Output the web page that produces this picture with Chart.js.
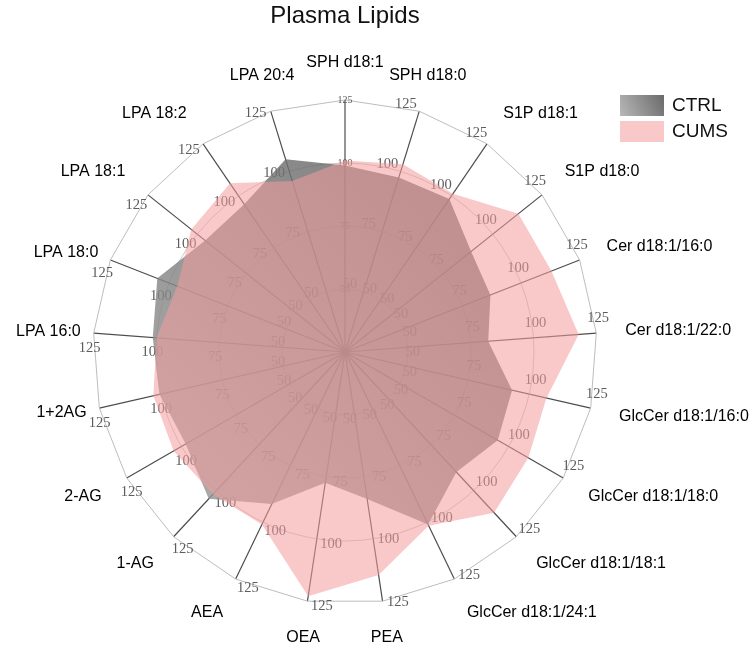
<!DOCTYPE html>
<html>
<head>
<meta charset="utf-8">
<title>Plasma Lipids</title>
<script src="https://cdn.jsdelivr.net/npm/chart.js@4.4.1/dist/chart.umd.min.js"></script>
<style>
  body { margin: 0; background: #fff; }
  #wrap { width: 749px; height: 648px; }
</style>
</head>
<body>
<div id="wrap"><canvas id="chart"></canvas></div>
<script>
const labels = ['SPH d18:1', 'SPH d18:0', 'S1P d18:1', 'S1P d18:0', 'Cer d18:1/16:0', 'Cer d18:1/22:0',
    'GlcCer d18:1/16:0', 'GlcCer d18:1/18:0', 'GlcCer d18:1/18:1', 'GlcCer d18:1/24:1',
    'PEA', 'OEA', 'AEA', '1-AG', '2-AG', '1+2AG',
    'LPA 16:0', 'LPA 18:0', 'LPA 18:1', 'LPA 18:2', 'LPA 20:4'];
const ctrlValues = [99, 97.5, 98.5, 89, 87, 82, 93, 95, 90, 101, 84, 77.5, 92, 104.5, 98, 100.5, 101.5, 105, 96, 96, 105];
const cumsValues = [101, 103, 101, 113, 113, 118, 107, 109, 112, 101.5, 114.5, 123, 101, 102, 103.5, 103, 100, 96.5, 103, 106, 96];
const tickValues = [50, 75, 100, 125];
const titleText = 'Plasma Lipids';

const sans = '"Liberation Sans", Arial, sans-serif';
const serif = '"Liberation Serif", "Times New Roman", serif';

const chart = document.querySelector('#chart').getContext('2d');

// grey fill goes from light (bottom left) to dark (top right)
function ctrlFill(context) {
    const area = context.chart.chartArea;
    if (!area) return 'rgba(125,125,125,0.82)';
    const g = context.chart.ctx.createLinearGradient(area.left, area.bottom, area.right, area.top);
    g.addColorStop(0, 'rgba(170,170,170,0.82)');
    g.addColorStop(1, 'rgba(78,78,78,0.82)');
    return g;
}

const decorations = {
    id: 'decorations',
    beforeDatasetsDraw(c) {
        const scale = c.scales.r;
        const ctx = c.ctx;
        const n = labels.length;
        ctx.save();

        // rings: circles inside, polygon for the outer one
        tickValues.forEach((v, k) => {
            const d = scale.getDistanceFromCenterForValue(v);
            ctx.beginPath();
            if (k === tickValues.length - 1) {
                for (let i = 0; i < n; i++) {
                    const p = scale.getPointPosition(i, d);
                    if (i === 0) ctx.moveTo(p.x, p.y); else ctx.lineTo(p.x, p.y);
                }
                ctx.closePath();
                ctx.strokeStyle = '#bdbdbd';
            } else {
                ctx.arc(scale.xCenter, scale.yCenter, d, 0, Math.PI * 2);
                ctx.strokeStyle = 'rgba(150,150,150,0.5)';
            }
            ctx.lineWidth = 1;
            ctx.stroke();
        });

        // value labels along every spoke
        ctx.textAlign = 'center';
        ctx.textBaseline = 'middle';
        ctx.fillStyle = '#5c5c5c';
        for (let i = 0; i < n; i++) {
            const a = scale.getIndexAngle(i);
            tickValues.forEach(v => {
                const p = scale.getPointPosition(i, scale.getDistanceFromCenterForValue(v));
                if (i === 0) {
                    ctx.font = '10px ' + serif;
                    ctx.fillText(v, p.x, p.y);
                } else {
                    ctx.font = '14.5px ' + serif;
                    ctx.fillText(v, p.x - 15 * Math.cos(a) + 3 * Math.sin(a), p.y - 15 * Math.sin(a) - 3 * Math.cos(a));
                }
            });
        }
        ctx.restore();
    },
    afterDraw(c) {
        const scale = c.scales.r;
        const ctx = c.ctx;
        ctx.save();

        // category labels
        ctx.font = '16px ' + sans;
        ctx.fillStyle = '#000';
        ctx.textBaseline = 'middle';
        labels.forEach((lab, i) => {
            const a = scale.getIndexAngle(i);
            const s = Math.sin(a), co = Math.cos(a);
            const w = ctx.measureText(lab).width;
            let align = Math.abs(s) < 0.35 ? 'center' : (s > 0 ? 'left' : 'right');
            let p = scale.getPointPosition(i, scale.drawingArea + 29);
            if (align === 'right' && p.x - w < 30) p = scale.getPointPosition(i, scale.drawingArea + 13);
            ctx.textAlign = align;
            ctx.fillText(lab, p.x, p.y - 8 * co);
        });

        // title
        ctx.font = '24px ' + sans;
        ctx.fillStyle = '#111';
        ctx.textAlign = 'center';
        ctx.fillText(titleText, scale.xCenter, 16);

        // legend
        const lx = scale.xCenter + 275, ly = scale.yCenter - 257;
        c.data.datasets.forEach((ds, k) => {
            const y = ly + k * 26;
            if (k === 0) {
                const g = ctx.createLinearGradient(lx, y + 21, lx + 44, y);
                g.addColorStop(0, '#b8b8b8');
                g.addColorStop(1, '#6a6a6a');
                ctx.fillStyle = g;
            } else {
                ctx.fillStyle = ds.backgroundColor;
            }
            ctx.fillRect(lx, y, 44, 21);
            ctx.font = '19px ' + sans;
            ctx.fillStyle = '#111';
            ctx.textAlign = 'left';
            ctx.fillText(ds.label, lx + 52, y + 11);
        });
        ctx.restore();
    }
};

new Chart(chart, {
    type: 'radar',
    data: {
        labels: labels,
        datasets: [
            {
                label: 'CTRL',
                data: ctrlValues,
                backgroundColor: ctrlFill,
                borderWidth: 0,
                pointRadius: 0,
                fill: true,
                order: 1
            },
            {
                label: 'CUMS',
                data: cumsValues,
                backgroundColor: 'rgba(244,155,155,0.55)',
                borderWidth: 0,
                pointRadius: 0,
                fill: true,
                order: 0
            }
        ]
    },
    options: {
        responsive: true,
        maintainAspectRatio: false,
        animation: false,
        layout: { padding: { left: 93, right: 152, top: 100, bottom: 44 } },
        plugins: {
            legend: { display: false },
            title: { display: false },
            tooltip: { enabled: false }
        },
        scales: {
            r: {
                min: 25,
                max: 125,
                ticks: { display: false, stepSize: 25 },
                grid: { display: false },
                angleLines: { color: '#4d4d4d', lineWidth: 1.2 },
                pointLabels: { display: false }
            }
        }
    },
    plugins: [decorations]
});
</script>
</body>
</html>
